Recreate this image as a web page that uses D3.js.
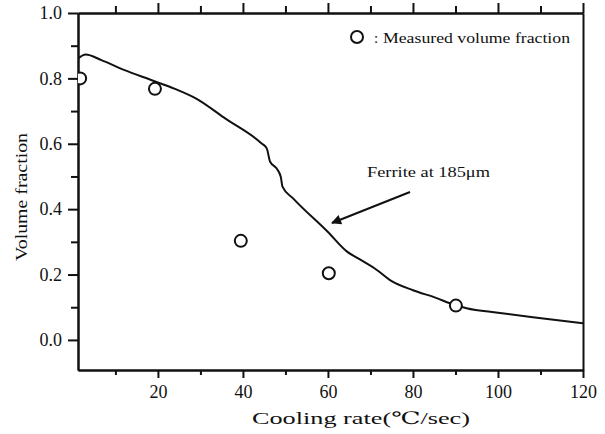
<!DOCTYPE html>
<html>
<head>
<meta charset="utf-8">
<script src="https://cdn.jsdelivr.net/npm/d3@7"></script>
<style>
  body { margin: 0; background: #fff; }
  svg { display: block; }
  text { font-family: "Liberation Serif", "DejaVu Serif", serif; fill: #111; }
  .axis path, .axis line { stroke: #111; stroke-width: 2; }
</style>
</head>
<body>
<div id="chart"></div>
<script>
// calculated ferrite curve
var curveRate = [1.3, 3, 6.7, 12, 18.4, 24, 28.9, 36, 44.4, 45.6, 46.4, 47.9, 48.9, 49.3, 51.8, 60, 64.5, 67, 71.5, 74.6, 80, 85.6, 88.7, 92.6, 100, 108.2, 120];
var curveFraction = [0.862, 0.873, 0.856, 0.826, 0.795, 0.768, 0.739, 0.676, 0.601, 0.586, 0.545, 0.525, 0.499, 0.469, 0.433, 0.33, 0.27, 0.25, 0.214, 0.183, 0.152, 0.128, 0.112, 0.097, 0.083, 0.069, 0.051];

// measured volume fraction
var measuredRate = [1.7, 19.3, 39.5, 60.2, 90.1];
var measuredFraction = [0.80, 0.768, 0.303, 0.204, 0.105];

var xMajor = [20, 40, 60, 80, 100, 120];
var xMinor = [10, 30, 50, 70, 90, 110];
var yMajor = [0.0, 0.2, 0.4, 0.6, 0.8, 1.0];
var yMinor = [0.1, 0.3, 0.5, 0.7, 0.9];

var width = 605, height = 434;
var m = {left: 78, right: 583, top: 13, bottom: 370};

var svg = d3.select("#chart").append("svg")
  .attr("width", width)
  .attr("height", height);

var x = d3.scaleLinear().domain([1.2, 120]).range([m.left, m.right]);
var y = d3.scaleLinear().domain([-0.092, 1.0]).range([m.bottom, m.top]);

function bigText(g) {
  g.selectAll("text").attr("font-size", 18).attr("font-family", "Liberation Serif");
}

// axes - major and minor ticks drawn separately
svg.append("g").attr("class", "axis")
  .attr("transform", "translate(0," + m.bottom + ")")
  .call(d3.axisBottom(x).tickValues(xMajor).tickSize(8).tickSizeOuter(0).tickPadding(7).tickFormat(d3.format("d")))
  .call(bigText);
svg.append("g").attr("class", "axis")
  .attr("transform", "translate(0," + m.bottom + ")")
  .call(d3.axisBottom(x).tickValues(xMinor).tickSize(5).tickSizeOuter(0).tickFormat(""));

svg.append("g").attr("class", "axis")
  .attr("transform", "translate(0," + m.top + ")")
  .call(d3.axisTop(x).tickValues(xMajor).tickSize(10).tickSizeOuter(0).tickFormat(""));
svg.append("g").attr("class", "axis")
  .attr("transform", "translate(0," + m.top + ")")
  .call(d3.axisTop(x).tickValues(xMinor).tickSize(7).tickSizeOuter(0).tickFormat(""));

svg.append("g").attr("class", "axis")
  .attr("transform", "translate(" + m.left + ",0)")
  .call(d3.axisLeft(y).tickValues(yMajor).tickSize(10).tickSizeOuter(0).tickPadding(6).tickFormat(d3.format(".1f")))
  .call(bigText);
svg.append("g").attr("class", "axis")
  .attr("transform", "translate(" + m.left + ",0)")
  .call(d3.axisLeft(y).tickValues(yMinor).tickSize(7).tickSizeOuter(0).tickFormat(""));

svg.append("g").attr("class", "axis")
  .attr("transform", "translate(" + m.right + ",0)")
  .call(d3.axisRight(y).tickValues([]).tickSizeOuter(0));

// clip so the first circle hides behind the left axis
svg.append("clipPath").attr("id", "plot")
  .append("rect").attr("x", m.left).attr("y", m.top).attr("width", m.right - m.left).attr("height", m.bottom - m.top);

var line = d3.line()
  .x(function(d) { return x(d[0]); })
  .y(function(d) { return y(d[1]); })
  .curve(d3.curveMonotoneX);

svg.append("path")
  .datum(d3.zip(curveRate, curveFraction))
  .attr("d", line)
  .attr("fill", "none")
  .attr("stroke", "#111")
  .attr("stroke-width", 2);

svg.append("g").attr("clip-path", "url(#plot)")
  .selectAll("circle")
  .data(d3.zip(measuredRate, measuredFraction)).enter()
  .append("circle")
  .attr("cx", function(d) { return x(d[0]); })
  .attr("cy", function(d) { return y(d[1]); })
  .attr("r", 6)
  .attr("fill", "#fff")
  .attr("stroke", "#111")
  .attr("stroke-width", 2);

// legend
svg.append("circle")
  .attr("cx", 357).attr("cy", 37).attr("r", 6)
  .attr("fill", "#fff").attr("stroke", "#111").attr("stroke-width", 2);
svg.append("text").attr("x", 374).attr("y", 43).attr("font-size", 15).text(":");
svg.append("text").attr("x", 383).attr("y", 43).attr("font-size", 15)
  .attr("textLength", 187).attr("lengthAdjust", "spacingAndGlyphs")
  .text("Measured volume fraction");

// annotation
svg.append("defs").append("marker")
  .attr("id", "head")
  .attr("viewBox", "0 0 10 10")
  .attr("refX", 9).attr("refY", 5)
  .attr("markerWidth", 6).attr("markerHeight", 5)
  .attr("markerUnits", "strokeWidth")
  .attr("orient", "auto")
  .append("path").attr("d", "M0,0 L10,5 L0,10 z").attr("fill", "#111");

svg.append("line")
  .attr("x1", 410).attr("y1", 192)
  .attr("x2", 332).attr("y2", 223)
  .attr("stroke", "#111").attr("stroke-width", 2)
  .attr("marker-end", "url(#head)");

svg.append("text").attr("x", 367).attr("y", 177).attr("font-size", 15)
  .attr("textLength", 123).attr("lengthAdjust", "spacingAndGlyphs")
  .text("Ferrite at 185μm");

// axis titles
svg.append("text")
  .attr("x", 361).attr("y", 424)
  .attr("text-anchor", "middle")
  .attr("font-size", 17)
  .attr("textLength", 218).attr("lengthAdjust", "spacingAndGlyphs")
  .text("Cooling rate(℃/sec)");

svg.append("text")
  .attr("transform", "translate(27,197) rotate(-90)")
  .attr("text-anchor", "middle")
  .attr("font-size", 17)
  .attr("textLength", 128).attr("lengthAdjust", "spacingAndGlyphs")
  .text("Volume fraction");
</script>
</body>
</html>
